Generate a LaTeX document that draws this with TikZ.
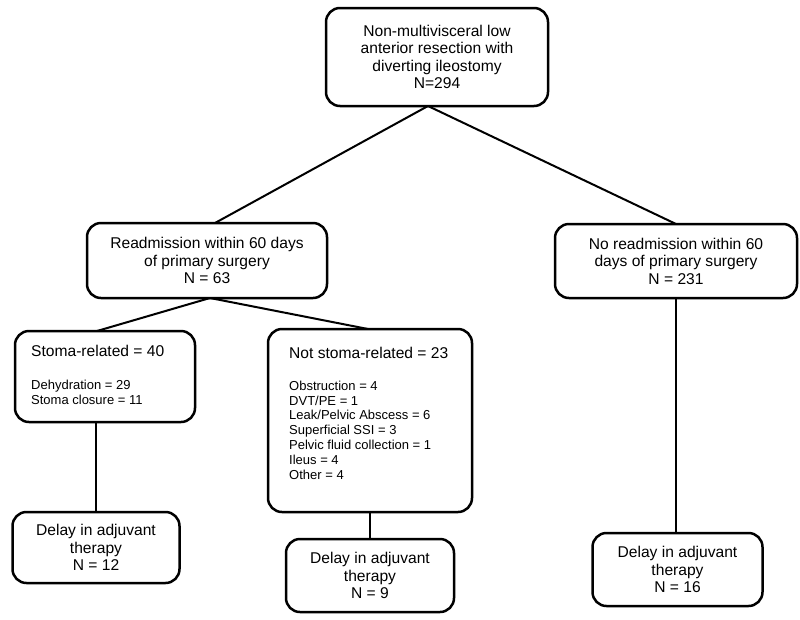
\documentclass[tikz,border=0pt]{standalone}
\usepackage{fontspec}
\setmainfont{Liberation Sans}
\begin{document}
\begin{tikzpicture}[x=1pt,y=-1pt,
  box/.style={draw=black,line width=2.5pt,rounded corners=14pt,inner sep=0pt,outer sep=0pt,
    align=center,font={\fontsize{15.6}{17.5}\selectfont}},
  conn/.style={draw=black,line width=2pt},
  titletext/.style={inner sep=0pt,anchor=west,font={\fontsize{15.6}{17.5}\selectfont}},
  listtext/.style={inner sep=0pt,anchor=west,align=left,font={\fontsize{13}{14.8}\selectfont}}]
\useasboundingbox[fill=white] (0,0) rectangle (800,619);

\node[box,minimum width=222pt,minimum height=98pt] (top) at (437,57)
  {Non-multivisceral low\\anterior resection with\\diverting ileostomy\\N=294};
\node[box,minimum width=240pt,minimum height=75pt] (readm) at (207,260.5)
  {Readmission within 60 days\\of primary surgery\\N = 63};
\node[box,minimum width=242pt,minimum height=74pt] (noreadm) at (676,261)
  {No readmission within 60\\days of primary surgery\\N = 231};
\node[box,minimum width=180pt,minimum height=91pt] (stoma) at (105,376.5) {};
\node[box,minimum width=204pt,minimum height=183pt] (notstoma) at (370,420.5) {};
\node[box,minimum width=167pt,minimum height=71pt] (delay1) at (96,547.5)
  {Delay in adjuvant\\therapy\\N = 12};
\node[box,minimum width=168pt,minimum height=73pt] (delay2) at (370,575.5)
  {Delay in adjuvant\\therapy\\N = 9};
\node[box,minimum width=170pt,minimum height=73pt] (delay3) at (677.5,569.5)
  {Delay in adjuvant\\therapy\\N = 16};

\node[titletext] (stomatitle) at (31,351) {Stoma-related = 40};
\node[listtext] (stomalist) at (31,392) {Dehydration = 29\\Stoma closure = 11};
\node[titletext] (notstomatitle) at (289,353) {Not stoma-related = 23};
\node[listtext] (notstomalist) at (289,430) {Obstruction = 4\\DVT/PE = 1\\Leak/Pelvic Abscess = 6\\Superficial SSI = 3\\Pelvic fluid collection = 1\\Ileus = 4\\Other = 4};

\draw[conn] ([xshift=-9pt]top.south) -- ([xshift=8pt]readm.north);
\draw[conn] ([xshift=-9pt]top.south) -- (noreadm.north);
\draw[conn] ([xshift=3pt]readm.south) -- ([xshift=-8pt]stoma.north);
\draw[conn] ([xshift=3pt]readm.south) -- ([xshift=-2pt]notstoma.north);
\draw[conn] (delay1.north |- stoma.south) -- (delay1.north);
\draw[conn] (delay2.north |- notstoma.south) -- (delay2.north);
\draw[conn] (noreadm.south) -- (delay3.north -| noreadm.south);
\end{tikzpicture}
\end{document}
